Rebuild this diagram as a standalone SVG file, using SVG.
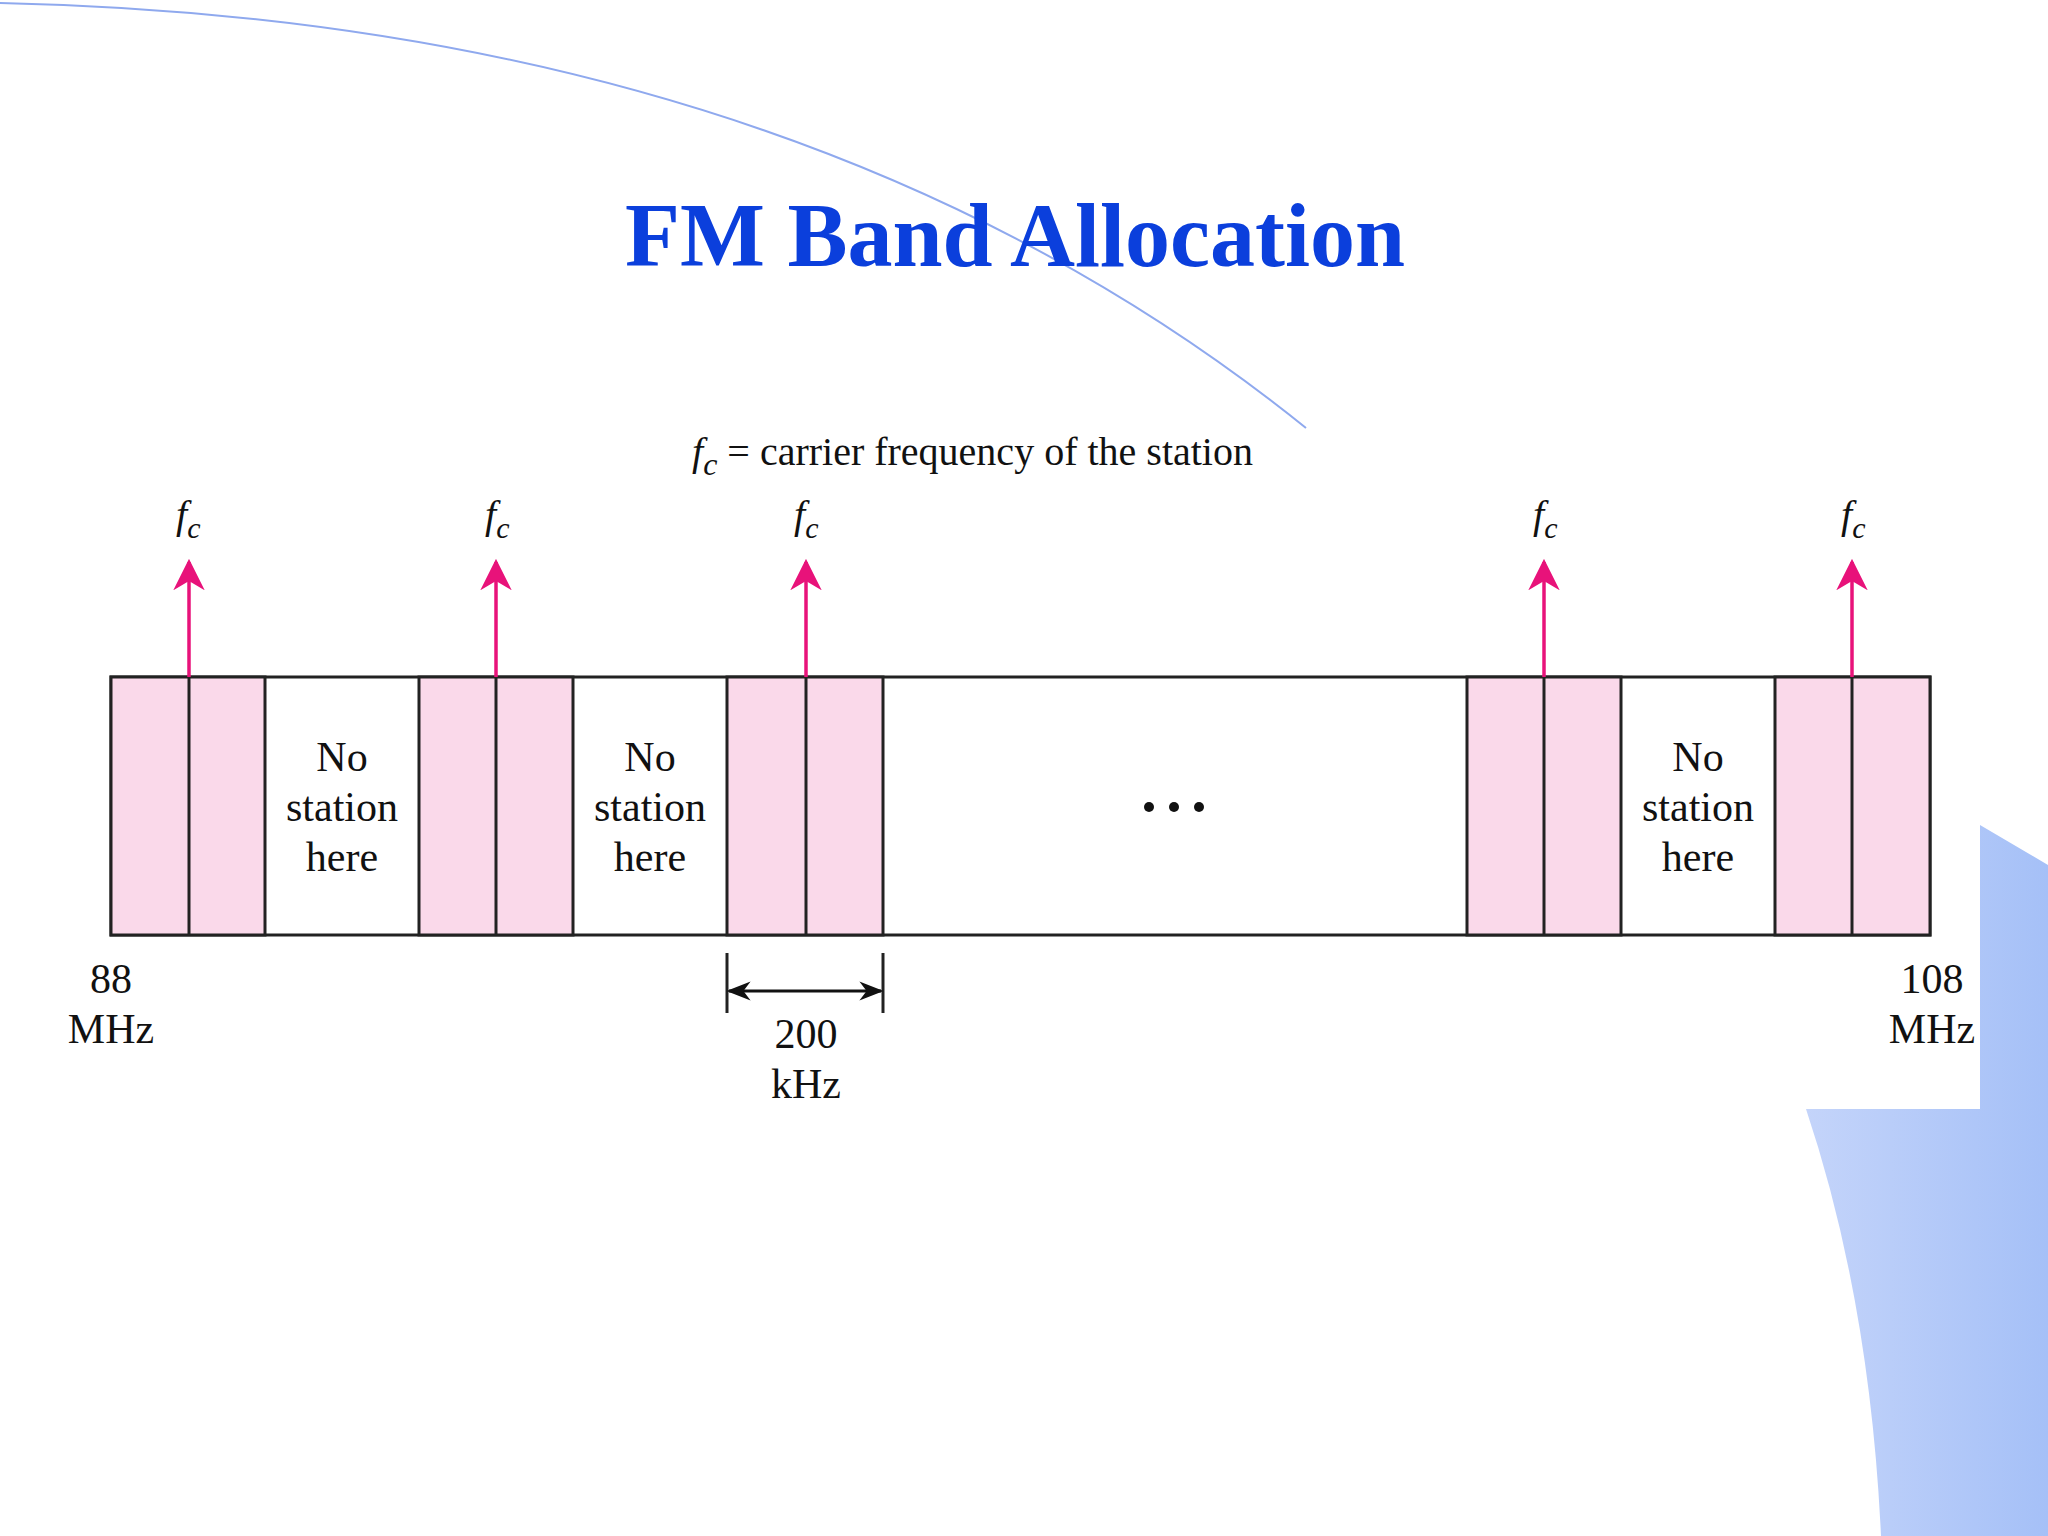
<svg xmlns="http://www.w3.org/2000/svg" width="2048" height="1536" viewBox="0 0 2048 1536">
<defs>
<style>
.t{font-family:"Liberation Serif",serif;font-size:42px;fill:#111;text-anchor:middle}
.fc{font-family:"Liberation Serif",serif;font-style:italic;font-size:40px;fill:#111}
.p{fill:#fad9ea;stroke:#222;stroke-width:3}
.l{stroke:#222;stroke-width:3}
.a{stroke:#e8127a;stroke-width:3.5}
</style>
<marker id="ah" viewBox="0 0 10 10" refX="9" refY="5" markerWidth="9" markerHeight="9" orient="auto"><path d="M0,0 L10,5 L0,10 L3,5z" fill="#e8127a"/></marker>
<marker id="bh" viewBox="0 0 10 10" refX="9" refY="5" markerWidth="8" markerHeight="8" orient="auto-start-reverse"><path d="M0,1 L10,5 L0,9 L3,5z" fill="#111"/></marker>
<linearGradient id="g" x1="0" x2="1"><stop offset="0" stop-color="#c4d4fa"/><stop offset="1" stop-color="#a5c0f7"/></linearGradient>
</defs>
<rect width="2048" height="1536" fill="#fff"/>
<path d="M0,3 Q800,20 1306,428" fill="none" stroke="#8fa9ee" stroke-width="2"/>
<path d="M1980,825 L2048,865 L2048,1536 L1881,1536 Q1870,1300 1806,1109 L1980,1109 Z" fill="url(#g)"/>
<text x="1015" y="266" font-family="Liberation Serif,serif" font-weight="bold" font-size="90" fill="#0b3fdc" text-anchor="middle">FM Band Allocation</text>
<text x="692" y="465" class="fc" font-size="43">f<tspan font-size="32" dy="10">c</tspan><tspan font-style="normal" dy="-10"> = carrier frequency of the station</tspan></text>
<g id="band">
<rect x="111" y="677" width="1819" height="258" fill="#fff" stroke="#222" stroke-width="3"/>
<rect class="p" x="111" y="677" width="154" height="258"/>
<rect class="p" x="419" y="677" width="154" height="258"/>
<rect class="p" x="727" y="677" width="156" height="258"/>
<rect class="p" x="1467" y="677" width="154" height="258"/>
<rect class="p" x="1775" y="677" width="155" height="258"/>
<g class="l"><line x1="189" y1="677" x2="189" y2="935"/><line x1="496" y1="677" x2="496" y2="935"/><line x1="806" y1="677" x2="806" y2="935"/><line x1="1544" y1="677" x2="1544" y2="935"/><line x1="1852" y1="677" x2="1852" y2="935"/></g>
</g>
<g id="nostation1"><text x="342" y="771" class="t">No</text><text x="342" y="821" class="t">station</text><text x="342" y="871" class="t">here</text></g>
<g id="nostation2"><text x="650" y="771" class="t">No</text><text x="650" y="821" class="t">station</text><text x="650" y="871" class="t">here</text></g>
<g id="nostation3"><text x="1698" y="771" class="t">No</text><text x="1698" y="821" class="t">station</text><text x="1698" y="871" class="t">here</text></g>
<g id="dots" fill="#111"><circle cx="1149" cy="807" r="5"/><circle cx="1174" cy="807" r="5"/><circle cx="1199" cy="807" r="5"/></g>
<g id="connectors">
<line class="a" x1="189" y1="677" x2="189" y2="562" marker-end="url(#ah)"/>
<line class="a" x1="496" y1="677" x2="496" y2="562" marker-end="url(#ah)"/>
<line class="a" x1="806" y1="677" x2="806" y2="562" marker-end="url(#ah)"/>
<line class="a" x1="1544" y1="677" x2="1544" y2="562" marker-end="url(#ah)"/>
<line class="a" x1="1852" y1="677" x2="1852" y2="562" marker-end="url(#ah)"/>
<line class="l" x1="727" y1="953" x2="727" y2="1013"/>
<line class="l" x1="883" y1="953" x2="883" y2="1013"/>
<line x1="729" y1="991" x2="881" y2="991" stroke="#111" stroke-width="3" marker-start="url(#bh)" marker-end="url(#bh)"/>
</g>
<g id="fclabels">
<text x="176" y="528" class="fc">f<tspan font-size="30" dy="10">c</tspan></text>
<text x="485" y="528" class="fc">f<tspan font-size="30" dy="10">c</tspan></text>
<text x="794" y="528" class="fc">f<tspan font-size="30" dy="10">c</tspan></text>
<text x="1533" y="528" class="fc">f<tspan font-size="30" dy="10">c</tspan></text>
<text x="1841" y="528" class="fc">f<tspan font-size="30" dy="10">c</tspan></text>
</g>
<g id="labels">
<text x="111" y="993" class="t">88</text><text x="111" y="1043" class="t">MHz</text>
<text x="1932" y="993" class="t">108</text><text x="1932" y="1043" class="t">MHz</text>
<text x="806" y="1048" class="t">200</text><text x="806" y="1098" class="t">kHz</text>
</g>
</svg>
